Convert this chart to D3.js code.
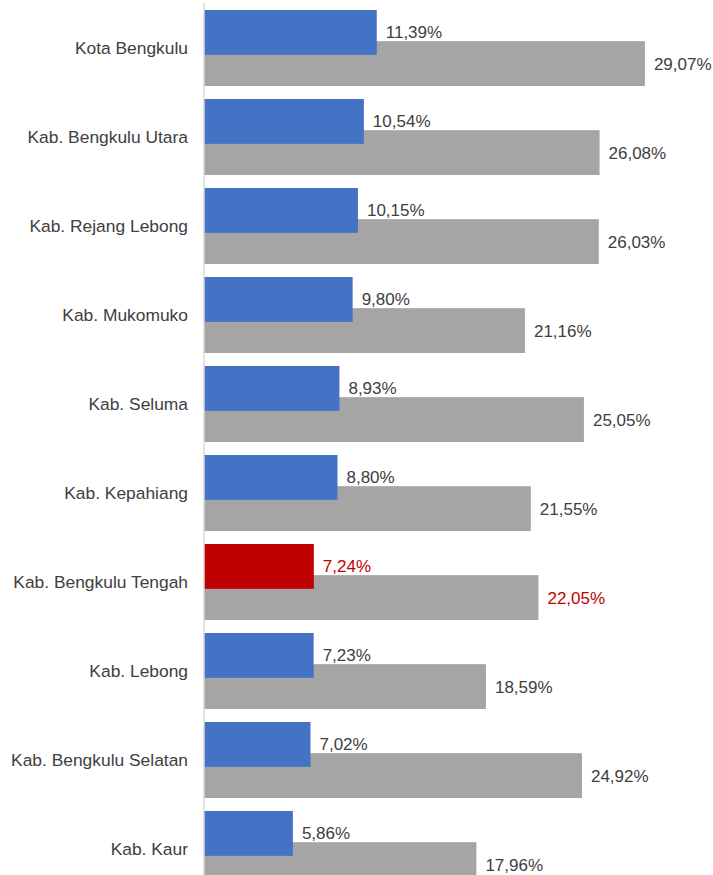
<!DOCTYPE html>
<html>
<head>
<meta charset="utf-8">
<script src="https://cdn.jsdelivr.net/npm/d3@7"></script>
<style>
  html, body { margin: 0; padding: 0; background: #ffffff; }
  svg { display: block; }
  text { font-family: "Liberation Sans", Arial, sans-serif; }
</style>
</head>
<body>
<svg id="chart" width="713" height="875"></svg>
<script>
// Regions, top to bottom
const categories = [
  "Kota Bengkulu",
  "Kab. Bengkulu Utara",
  "Kab. Rejang Lebong",
  "Kab. Mukomuko",
  "Kab. Seluma",
  "Kab. Kepahiang",
  "Kab. Bengkulu Tengah",
  "Kab. Lebong",
  "Kab. Bengkulu Selatan",
  "Kab. Kaur"
];

// Upper (blue) series, percent
const seriesUpper = [11.39, 10.54, 10.15, 9.80, 8.93, 8.80, 7.24, 7.23, 7.02, 5.86];

// Lower (grey) series, percent
const seriesLower = [29.07, 26.08, 26.03, 21.16, 25.05, 21.55, 22.05, 18.59, 24.92, 17.96];

// Region shown in red
const highlighted = "Kab. Bengkulu Tengah";

const colorUpper = "#4472C4";
const colorLower = "#A5A5A5";
const colorHighlight = "#C00000";
const colorText = "#404040";

const fmt = v => v.toFixed(2).replace(".", ",") + "%";

const svg = d3.select("#chart");

const x = d3.scaleLinear().domain([0, 30]).range([204, 659]);

const y = d3.scaleBand()
  .domain(categories)
  .range([3.5, 893.5])
  .paddingInner(0.146)
  .paddingOuter(0.073);

const bw = y.bandwidth();
const barH = bw * 0.59;          // each bar's thickness
const lowerOffset = bw - barH;   // grey bar starts below the top of the blue one

const rows = categories.map((c, i) => ({
  cat: c,
  upper: seriesUpper[i],
  lower: seriesLower[i],
  hi: c === highlighted
}));

// Grey bars first so the blue bars sit on top where they overlap
svg.append("g").selectAll("rect")
  .data(rows)
  .join("rect")
  .attr("x", x(0))
  .attr("y", d => y(d.cat) + lowerOffset)
  .attr("width", d => x(d.lower) - x(0))
  .attr("height", barH)
  .attr("fill", colorLower);

svg.append("g").selectAll("rect")
  .data(rows)
  .join("rect")
  .attr("x", x(0))
  .attr("y", d => y(d.cat))
  .attr("width", d => x(d.upper) - x(0))
  .attr("height", barH)
  .attr("fill", d => d.hi ? colorHighlight : colorUpper);

// Value labels
svg.append("g").selectAll("text")
  .data(rows)
  .join("text")
  .attr("x", d => x(d.upper) + 9)
  .attr("y", d => y(d.cat) + barH / 2)
  .attr("dy", "0.35em")
  .attr("font-size", "17px")
  .attr("fill", d => d.hi ? colorHighlight : colorText)
  .text(d => fmt(d.upper));

svg.append("g").selectAll("text")
  .data(rows)
  .join("text")
  .attr("x", d => x(d.lower) + 9)
  .attr("y", d => y(d.cat) + lowerOffset + barH / 2)
  .attr("dy", "0.35em")
  .attr("font-size", "17px")
  .attr("fill", d => d.hi ? colorHighlight : colorText)
  .text(d => fmt(d.lower));

// Category axis
const axis = svg.append("g")
  .attr("transform", `translate(${x(0)},0)`)
  .call(d3.axisLeft(y).tickSize(0).tickPadding(16));

axis.select(".domain")
  .attr("stroke", "#D9D9D9")
  .attr("stroke-width", 1.5)
  .attr("d", "M0,3V875");

axis.selectAll(".tick text")
  .attr("font-family", "'Liberation Sans', Arial, sans-serif")
  .attr("font-size", "17.4px")
  .attr("fill", colorText);
</script>
</body>
</html>
